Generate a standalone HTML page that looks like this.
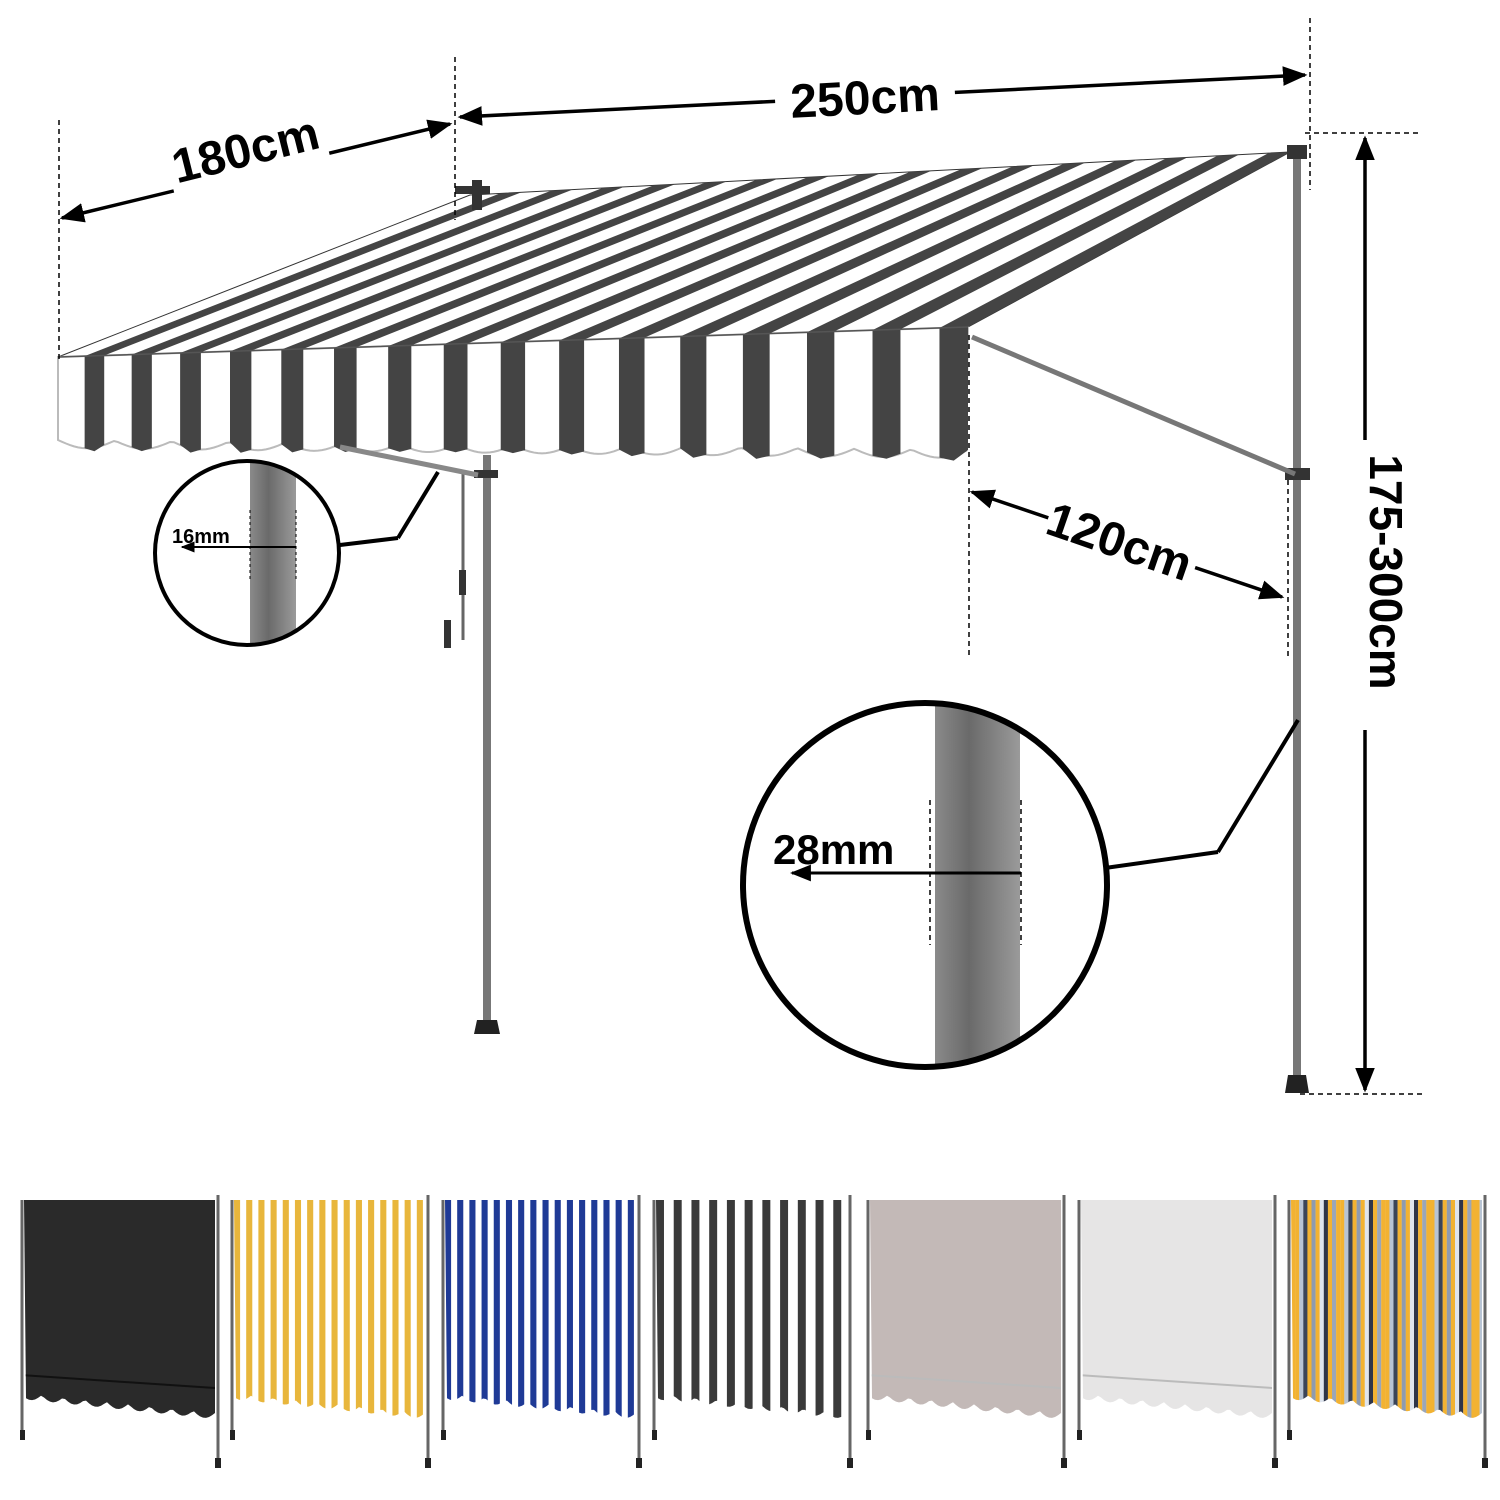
<!DOCTYPE html>
<html><head><meta charset="utf-8"><style>
html,body{margin:0;padding:0;background:#fff;width:1500px;height:1500px;overflow:hidden}
svg{display:block}
text{font-family:"Liberation Sans",sans-serif;font-weight:bold;fill:#000}
</style></head><body>
<svg id="s" width="1500" height="1500" viewBox="0 0 1500 1500" xmlns="http://www.w3.org/2000/svg">
<defs>
<linearGradient id="pg" x1="0" x2="1" y1="0" y2="0">
<stop offset="0" stop-color="#8a8a8a"/><stop offset="0.4" stop-color="#6a6a6a"/><stop offset="1" stop-color="#9a9a9a"/>
</linearGradient>
<marker id="ar" viewBox="0 0 10 10" refX="9" refY="5" markerWidth="7" markerHeight="7" orient="auto-start-reverse"><path d="M0,1 L10,5 L0,9 z" fill="#000"/></marker>
</defs>
<g id="roof"></g>
<rect x="483" y="455" width="8" height="572" fill="#777"/>
<path d="M477,1020 h20 l3,14 h-26z" fill="#222"/>
<rect x="474" y="470" width="24" height="8" fill="#333"/>
<line x1="463" y1="470" x2="463" y2="640" stroke="#666" stroke-width="3"/>
<rect x="459" y="570" width="7" height="25" fill="#333"/>
<rect x="444" y="620" width="7" height="28" fill="#333"/>
<line x1="340" y1="447" x2="478" y2="475" stroke="#888" stroke-width="5"/>
<rect x="1293" y="150" width="8" height="935" fill="#777"/>
<path d="M1288,1075 h18 l3,18 h-24z" fill="#222"/>
<rect x="1285" y="468" width="25" height="12" fill="#333"/>
<rect x="1287" y="145" width="20" height="14" fill="#333"/>
<line x1="972" y1="337" x2="1295" y2="474" stroke="#777" stroke-width="5"/>
<rect x="455" y="186" width="35" height="8" fill="#333"/>
<rect x="472" y="180" width="10" height="30" fill="#333"/>
<g stroke="#000" stroke-width="1.5" stroke-dasharray="5,4" fill="none">
<line x1="59" y1="120" x2="59" y2="360"/>
<line x1="455" y1="57" x2="455" y2="220"/>
<line x1="1310" y1="18" x2="1310" y2="190"/>
<line x1="1305" y1="133" x2="1418" y2="133"/>
<line x1="1300" y1="1094" x2="1425" y2="1094"/>
<line x1="969" y1="335" x2="969" y2="658"/>
<line x1="1288" y1="480" x2="1288" y2="660"/>
</g>
<g stroke="#000" stroke-width="3.5" fill="none">
<line x1="62" y1="218" x2="450" y2="124" marker-start="url(#ar)" marker-end="url(#ar)"/>
<line x1="460" y1="117" x2="1305" y2="75" marker-start="url(#ar)" marker-end="url(#ar)"/>
<line x1="972" y1="492" x2="1282" y2="597" marker-start="url(#ar)" marker-end="url(#ar)"/>
<line x1="1365" y1="138" x2="1365" y2="1090" marker-start="url(#ar)" marker-end="url(#ar)"/>
</g>
<rect x="165" y="115" width="160" height="62" fill="#fff" transform="rotate(-14 245 146)"/>
<text x="245" y="166" font-size="48" text-anchor="middle" transform="rotate(-14 245 148)">180cm</text>
<rect x="775" y="70" width="180" height="55" fill="#fff" transform="rotate(-3 865 97)"/>
<text x="865" y="114" font-size="48" text-anchor="middle" transform="rotate(-3 865 97)">250cm</text>
<rect x="1045" y="505" width="155" height="60" fill="#fff" transform="rotate(19 1120 540)"/>
<text x="1120" y="558" font-size="48" text-anchor="middle" transform="rotate(19 1120 540)">120cm</text>
<rect x="1340" y="440" width="50" height="290" fill="#fff"/>
<text x="1370" y="572" font-size="46" text-anchor="middle" transform="rotate(90 1370 572)">175-300cm</text>
<line x1="340" y1="545" x2="398" y2="538" stroke="#000" stroke-width="4"/>
<line x1="398" y1="538" x2="438" y2="472" stroke="#000" stroke-width="4"/>
<clipPath id="c1"><circle cx="247" cy="553" r="92"/></clipPath>
<circle cx="247" cy="553" r="92" fill="#fff"/>
<rect x="250" y="455" width="46" height="200" fill="url(#pg)" clip-path="url(#c1)"/>
<circle cx="247" cy="553" r="92" fill="none" stroke="#000" stroke-width="4"/>
<line x1="250" y1="510" x2="250" y2="582" stroke="#000" stroke-dasharray="3,3"/>
<line x1="296" y1="510" x2="296" y2="582" stroke="#000" stroke-dasharray="3,3"/>
<line x1="296" y1="547" x2="182" y2="547" stroke="#000" stroke-width="2" marker-end="url(#ar)"/>
<text x="172" y="543" font-size="20">16mm</text>
<line x1="1105" y1="868" x2="1218" y2="852" stroke="#000" stroke-width="4"/>
<line x1="1218" y1="852" x2="1298" y2="720" stroke="#000" stroke-width="4"/>
<clipPath id="c2"><circle cx="925" cy="885" r="182"/></clipPath>
<circle cx="925" cy="885" r="182" fill="#fff"/>
<rect x="935" y="700" width="85" height="370" fill="url(#pg)" clip-path="url(#c2)"/>
<circle cx="925" cy="885" r="182" fill="none" stroke="#000" stroke-width="6"/>
<line x1="930" y1="800" x2="930" y2="945" stroke="#000" stroke-width="1.5" stroke-dasharray="5,4"/>
<line x1="1021" y1="800" x2="1021" y2="945" stroke="#000" stroke-width="1.5" stroke-dasharray="5,4"/>
<line x1="1021" y1="873" x2="792" y2="873" stroke="#000" stroke-width="3" marker-end="url(#ar)"/>
<text x="773" y="864" font-size="42">28mm</text>
<g id="sw"></g>
</svg>
<script>
var NS="http://www.w3.org/2000/svg";
function el(p,t,a){var e=document.createElementNS(NS,t);for(var k in a)e.setAttribute(k,a[k]);p.appendChild(e);return e;}
var roof=document.getElementById('roof');
var FL=[58,357],FR=[968,327],BL=[470,195],BR=[1290,152];
el(roof,'polygon',{points:[FL,BL,BR,FR].join(' '),fill:'#fff',stroke:'#333','stroke-width':1});
function fx(u){return 0.8*u+0.2*u*u;}
function lerp(a,b,t){return [a[0]+(b[0]-a[0])*t,a[1]+(b[1]-a[1])*t];}
var N=16;
function vb(x){var t=(x-58)/910;var base=440+10*t;var ph=((x-58)/(910/16))%1;return base+8*Math.sin(ph*Math.PI);}
var vpts=[FL];for(var x=58;x<=968;x+=4)vpts.push([x,vb(x)]);
vpts.push(FR);
el(roof,'polygon',{points:vpts.join(' '),fill:'#fff',stroke:'#bbb','stroke-width':2});
for(var i=0;i<N;i++){
 var a=(i+0.58)/N,b=(i+1.0)/N;
 var fa=lerp(FL,FR,fx(a)),fb=lerp(FL,FR,fx(Math.min(b,1)));
 var ba=lerp(BL,BR,a),bb=lerp(BL,BR,Math.min(b,1));
 el(roof,'polygon',{points:[fa,ba,bb,fb].join(' '),fill:'#444'});
 var y2=vb(fb[0]),y1=vb(fa[0]);
 el(roof,'polygon',{points:[fa,fb,[fb[0],y2],[(fa[0]+fb[0])/2,Math.max(y1,y2)+3],[fa[0],y1]].join(' '),fill:'#444'});
}
el(roof,'line',{x1:FL[0],y1:FL[1],x2:FR[0],y2:FR[1],stroke:'#555','stroke-width':1.5});
var sw=document.getElementById('sw');
var X=[20,230,441,652,866,1077,1287];
var kinds=['solid#2a2a2a','st#e8b63c','st#1f3a96','st#3a3a3a','solid#c3b9b7','solid#e6e5e5','multi'];
X.forEach(function(x0,k){
 var w=195,top=1200;
 el(sw,'line',{x1:x0+2,y1:top,x2:x0+2,y2:1435,stroke:'#666','stroke-width':3});
 el(sw,'line',{x1:x0+w+3,y1:top-5,x2:x0+w+3,y2:1465,stroke:'#666','stroke-width':3});
 el(sw,'rect',{x:x0,y:1430,width:5,height:10,fill:'#222'});
 el(sw,'rect',{x:x0+w,y:1458,width:6,height:10,fill:'#222'});
 var pts=[[x0+4,top]];pts.push([x0+w,top]);
 for(var x=x0+w;x>=x0+4;x-=3){var t=(x-x0)/w;var y=1393+20*t+6*Math.abs(Math.sin((x-x0)/w*9*Math.PI));pts.push([x,y]);}
 var kind=kinds[k];
 var clipId='sc'+k;var cp=el(sw,'clipPath',{id:clipId});el(cp,'polygon',{points:pts.join(' ')});
 var g=el(sw,'g',{'clip-path':'url(#'+clipId+')'});
 if(kind.indexOf('solid')==0){el(g,'rect',{x:x0,y:top,width:w+4,height:240,fill:kind.slice(5)});
  el(g,'line',{x1:x0,y1:1375,x2:x0+w,y2:1388,stroke:k==0?'#111':'#bbb','stroke-width':2});}
 else if(kind.indexOf('st')==0){el(g,'rect',{x:x0,y:top,width:w+4,height:240,fill:'#fff'});
  var c=kind.slice(2);var n=k==3?11:16;var pw=w/n;for(var i=0;i<n;i++)el(g,'rect',{x:x0+4+i*pw,y:top,width:pw*(k==3?0.45:0.5),height:240,fill:c});}
 else{var cols=['#f2b232','#f2b232','#b8c4d4','#3a4458','#f2b232','#8e9bb0','#f2b232','#dfe5ee','#2e3548','#f2b232','#9aa6b8'];
  for(var i=0;i<48;i++)el(g,'rect',{x:x0+4+i*4.1,y:top,width:4.2,height:240,fill:cols[i%cols.length]});}
});
</script>
</body></html>
